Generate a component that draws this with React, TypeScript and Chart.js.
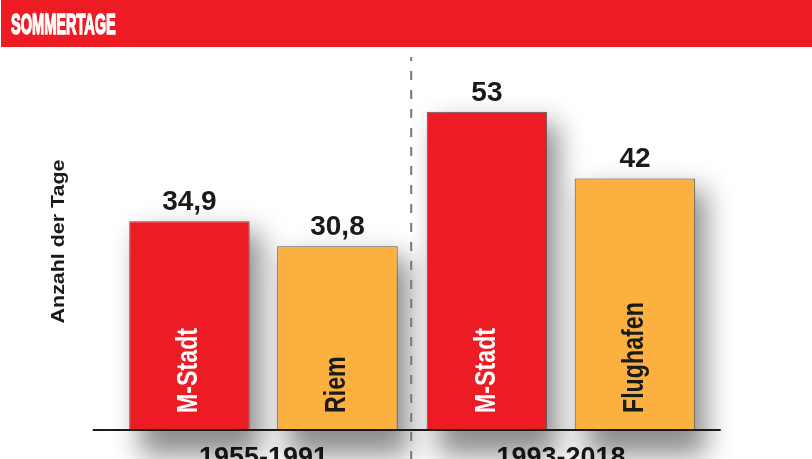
import React, { useEffect, useRef } from 'react';
import { Chart, registerables } from 'chart.js';

Chart.register(...registerables);

const titleText = 'SOMMERTAGE';
const yAxisTitle = 'Anzahl der Tage';
const periods = ['1955-1991', '1993-2018'];
const cityValues = [34.9, 53];
const outerValues = [30.8, 42];
const cityStations = ['M-Stadt', 'M-Stadt'];
const outerStations = ['Riem', 'Flughafen'];

const RED = '#ED1C24';
const ORANGE = '#FBB040';
const FONT = '"Liberation Sans", Arial, Helvetica, sans-serif';

const fmt = (v: number) => String(v).replace('.', ',');

const decorPlugin = {
  id: 'decor',
  beforeDraw(chart: any) {
    const { ctx, width, height } = chart;
    ctx.save();
    ctx.fillStyle = '#ffffff';
    ctx.fillRect(0, 0, width, height);
    ctx.fillStyle = RED;
    ctx.fillRect(1, 0, width - 1, 47);
    ctx.fillStyle = '#ffffff';
    ctx.strokeStyle = '#ffffff';
    ctx.lineWidth = 1.6;
    ctx.font = `bold 30px ${FONT}`;
    ctx.textBaseline = 'alphabetic';
    ctx.textAlign = 'left';
    ctx.translate(11, 34);
    ctx.scale(0.485, 1);
    ctx.fillText(titleText, 0, 0);
    ctx.strokeText(titleText, 0, 0);
    ctx.restore();
  },
  beforeDatasetsDraw(chart: any) {
    const { ctx } = chart;
    ctx.save();
    const shift = 10000;
    ctx.shadowColor = 'rgba(0,0,0,0.45)';
    ctx.shadowBlur = 26;
    ctx.shadowOffsetX = 11 + shift;
    ctx.shadowOffsetY = 12;
    ctx.fillStyle = '#000';
    chart.data.datasets.forEach((_ds: any, i: number) => {
      const meta = chart.getDatasetMeta(i);
      meta.data.forEach((bar: any) => {
        const { x, y, base, width } = bar.getProps(['x', 'y', 'base', 'width'], true);
        ctx.fillRect(x - width / 2 - shift, y, width, base - y + 10);
      });
    });
    ctx.restore();
  },
  afterDatasetsDraw(chart: any) {
    const { ctx, chartArea } = chart;
    const xScale = chart.scales.x;
    ctx.save();
    // axis line
    ctx.strokeStyle = '#1a1a1a';
    ctx.lineWidth = 2;
    ctx.beginPath();
    ctx.moveTo(chartArea.left - 22, chartArea.bottom + 0.5);
    ctx.lineTo(chartArea.right + 11, chartArea.bottom + 0.5);
    ctx.stroke();
    // dashed separator
    const sepX = (xScale.getPixelForValue(0) + xScale.getPixelForValue(1)) / 2 - 1;
    ctx.strokeStyle = '#777777';
    ctx.lineWidth = 2;
    ctx.setLineDash([9, 10]);
    ctx.lineDashOffset = 5;
    ctx.beginPath();
    ctx.moveTo(sepX, 57);
    ctx.lineTo(sepX, chart.height);
    ctx.stroke();
    ctx.setLineDash([]);

    chart.data.datasets.forEach((ds: any, i: number) => {
      const meta = chart.getDatasetMeta(i);
      meta.data.forEach((bar: any, j: number) => {
        const { x, y } = bar.getProps(['x', 'y'], true);
        // value label
        ctx.fillStyle = '#1a1a1a';
        ctx.font = `bold 28px ${FONT}`;
        ctx.textAlign = 'center';
        ctx.textBaseline = 'alphabetic';
        ctx.fillText(fmt(ds.data[j]), x, y - 11);
        // station label
        ctx.save();
        ctx.translate(x, chartArea.bottom - 16.5);
        ctx.rotate(-Math.PI / 2);
        ctx.scale(0.8, 1);
        ctx.fillStyle = ds.labelColor;
        ctx.font = `bold 29px ${FONT}`;
        ctx.textAlign = 'left';
        ctx.textBaseline = 'middle';
        ctx.fillText(ds.stations[j], 0, 0);
        ctx.restore();
      });
    });

    // y axis title
    ctx.save();
    ctx.translate(59.5, (chartArea.top + chartArea.bottom) / 2 - 8);
    ctx.rotate(-Math.PI / 2);
    ctx.scale(1.19, 1);
    ctx.fillStyle = '#1a1a1a';
    ctx.font = `bold 18px ${FONT}`;
    ctx.textAlign = 'center';
    ctx.textBaseline = 'middle';
    ctx.fillText(yAxisTitle, 0, 0);
    ctx.restore();

    ctx.restore();
  },
};

export default function App() {
  const ref = useRef<HTMLCanvasElement | null>(null);

  useEffect(() => {
    if (!ref.current) return;
    const chart = new Chart(ref.current, {
      type: 'bar',
      data: {
        labels: periods,
        datasets: [
          {
            label: 'Stadt',
            data: cityValues,
            backgroundColor: RED,
            borderColor: '#4a5858',
            borderWidth: 1,
            categoryPercentage: 0.995,
            barPercentage: 0.814,
            stations: cityStations,
            labelColor: '#ffffff',
          } as any,
          {
            label: 'Umland',
            data: outerValues,
            backgroundColor: ORANGE,
            borderColor: '#4a5858',
            borderWidth: 1,
            categoryPercentage: 0.995,
            barPercentage: 0.814,
            stations: outerStations,
            labelColor: '#1a1a1a',
          } as any,
        ],
      },
      options: {
        responsive: false,
        animation: false,
        layout: { padding: { left: 114.7, right: 102.3, top: 69.5, bottom: 5.1 } },
        plugins: {
          legend: { display: false },
          tooltip: { enabled: false },
          title: { display: false },
        },
        scales: {
          x: {
            grid: { display: false, drawTicks: false },
            border: { display: false },
            ticks: {
              padding: 13,
              color: '#1a1a1a',
              font: { family: FONT, size: 27, weight: 'bold' },
            },
          },
          y: { display: false, min: 0.5, max: 60 },
        },
      },
      plugins: [decorPlugin],
    });
    return () => chart.destroy();
  }, []);

  return (
    <div
      style={{
        position: 'fixed',
        left: 0,
        top: 0,
        width: 812,
        height: 459,
        overflow: 'hidden',
        background: '#fff',
      }}
    >
      <canvas ref={ref} width={812} height={493} style={{ display: 'block' }} />
    </div>
  );
}
